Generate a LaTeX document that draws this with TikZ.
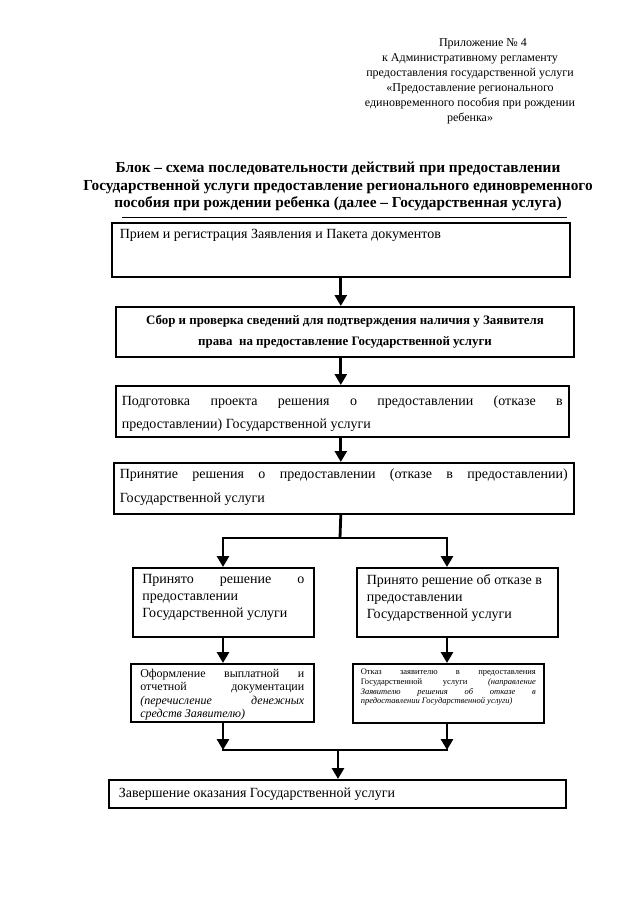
\documentclass[tikz,border=0pt]{standalone}
\usepackage{fontspec}
\setmainfont{Liberation Serif}
\usetikzlibrary{arrows.meta,calc}
\newcommand{\bxt}[4]{\parbox[c][#2][t]{#1}{\vspace*{#3}#4}}
\begin{document}
\begin{tikzpicture}[x=1pt,y=-1pt,
  box/.style={draw, line width=1.6pt, inner ysep=0pt, anchor=north west, fill=white},
  arr/.style={line width=2.8pt, -{Triangle[width=12pt,length=11pt]}},
  ln/.style={line width=2.8pt}]
\useasboundingbox[fill=white] (0,0) rectangle (640,905);

\node[align=center, inner sep=0pt, anchor=north, font=\fontsize{12}{15}\selectfont] (hdr) at (470,38)
 {\hspace*{26pt}Приложение № 4\\к Административному регламенту\\предоставления государственной услуги\\«Предоставление регионального\\единовременного пособия при рождении\\ребенка»};

\node[align=center, inner sep=0pt, anchor=north, font=\bfseries\fontsize{15.3}{17.5}\selectfont] (title) at (338,162)
 {Блок – схема последовательности действий при предоставлении\\Государственной услуги предоставление регионального единовременного\\пособия при рождении ребенка (далее – Государственная услуга)};
\draw[line width=1pt] (122,217) -- (567,217);

\node[box, inner xsep=8pt] (b1) at (111,222)
 {\bxt{442pt}{54pt}{6pt}{\fontsize{14}{18}\selectfont Прием и регистрация Заявления и Пакета документов}};

\node[box, line width=2.1pt, inner xsep=0pt, minimum width=458pt, minimum height=50pt, align=center,
  font=\bfseries\fontsize{12.9}{21}\selectfont] (b2) at (115,306)
 {Сбор и проверка сведений для подтверждения наличия у Заявителя\\права\ \ на предоставление Государственной услуги};

\node[box, inner xsep=6pt] (b3) at (115,385)
 {\bxt{441pt}{51pt}{10pt}{\fontsize{14}{23}\selectfont Подготовка проекта решения о предоставлении (отказе в\linebreak предоставлении) Государственной услуги}};

\node[box, inner xsep=6pt] (b4) at (113,462)
 {\bxt{448pt}{51pt}{6pt}{\fontsize{14}{24}\selectfont Принятие решения о предоставлении (отказе в предоставлении)\linebreak Государственной услуги}};

\node[box, inner xsep=9.5pt] (b5L) at (132,567)
 {\bxt{162pt}{69pt}{7pt}{\fontsize{14}{16.7}\selectfont Принято решение о\linebreak предоставлении\\Государственной услуги}};

\node[box, inner xsep=10pt] (b5R) at (356,567)
 {\bxt{181pt}{69pt}{7pt}{\fontsize{14}{16.7}\selectfont\raggedright Принято решение об отказе в\\предоставлении\\Государственной услуги}};

\node[box, inner xsep=9.5pt] (b6L) at (130,663)
 {\bxt{164pt}{58pt}{5pt}{\fontsize{12}{13.6}\selectfont Оформление выплатной и\linebreak отчетной документации\linebreak \textit{(перечисление денежных\linebreak средств Заявителю)}}};

\node[box, inner xsep=8pt] (b6R) at (352,663)
 {\bxt{175pt}{59pt}{5pt}{\fontsize{8.5}{9.8}\selectfont Отказ заявителю в предоставления\linebreak Государственной услуги \textit{(направление\linebreak Заявителю решения об отказе в\linebreak предоставлении Государственной услуги)}}};

\node[box, inner xsep=10pt] (b7) at (108,779)
 {\bxt{437pt}{28pt}{8pt}{\fontsize{14}{18}\selectfont Завершение оказания Государственной услуги}};

\draw[arr] (b1.south) -- (b1.south |- b2.north);
\draw[arr] (b1.south |- b2.south) -- (b1.south |- b3.north);
\draw[arr] (b1.south |- b3.south) -- (b1.south |- b4.north);
\coordinate (j1) at (340,538);
\coordinate (jL) at (223,538);
\coordinate (jR) at (447,538);
\draw[ln] (b1.south |- b4.south) -- (j1);
\draw[ln, line cap=rect] (jL) -- (jR);
\draw[arr] (jL) -- (jL |- b5L.north);
\draw[arr] (jR) -- (jR |- b5R.north);
\draw[arr] (jL |- b5L.south) -- (jL |- b6L.north);
\draw[arr] (jR |- b5R.south) -- (jR |- b6R.north);
\coordinate (kL) at (223,750);
\coordinate (kR) at (447,750);
\coordinate (kM) at (338,750);
\draw[arr] (jL |- b6L.south) -- (kL);
\draw[arr] (jR |- b6R.south) -- (kR);
\draw[ln, line cap=rect] (kL) -- (kR);
\draw[arr] (kM) -- (kM |- b7.north);
\end{tikzpicture}
\end{document}
